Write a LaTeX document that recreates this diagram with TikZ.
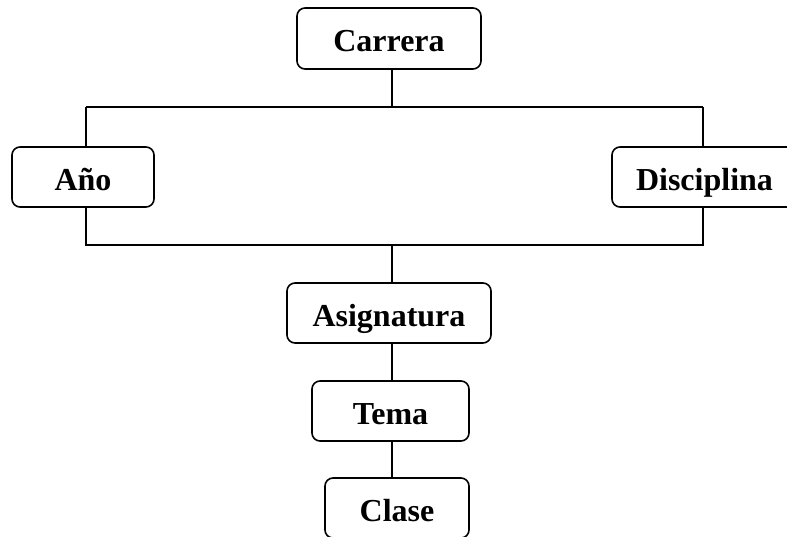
\documentclass[tikz,border=0pt]{standalone}
\usepackage{fontspec}
\setmainfont{Liberation Serif}
\usepackage{tikz}
\usetikzlibrary{calc}

\begin{document}
\begin{tikzpicture}[x=1pt, y=-1pt,
    caja/.style={draw, rounded corners=8pt, line width=1.6pt, minimum height=60pt,
                 inner sep=0pt, text height=27pt, text depth=0pt,
                 font=\fontsize{32}{36}\selectfont\bfseries},
    linea/.style={line width=1.6pt}]
  \pgfmathsetmacro{\ytop}{107}
  \pgfmathsetmacro{\ybot}{245}
  \clip (0,0) rectangle (787,537);
  \useasboundingbox (0,0) rectangle (787,537);

  \node[caja, minimum width=184pt, minimum height=61pt] (carrera) at (389,38.5) {Carrera};
  \node[caja, minimum width=142pt] (anio) at (83,177) {Año};
  \node[caja, minimum width=185pt] (disciplina) at (704.5,177) {Disciplina};
  \node[caja, minimum width=204pt] (asignatura) at (389,313) {Asignatura};
  \node[caja, minimum width=157pt] (tema) at (390.5,411) {Tema};
  \node[caja, minimum width=144pt] (clase) at (397,508) {Clase};

  \coordinate (arribaC) at (392,\ytop);
  \coordinate (arribaI) at (86,\ytop);
  \coordinate (arribaD) at (703,\ytop);
  \coordinate (abajoC) at (392,\ybot);
  \coordinate (abajoI) at (86,\ybot);
  \coordinate (abajoD) at (703,\ybot);

  \draw[linea] (carrera.south -| arribaC) -- (arribaC);
  \draw[linea] (arribaI) -- (arribaD);
  \draw[linea] (arribaI) -- (anio.north -| arribaI);
  \draw[linea] (arribaD) -- (disciplina.north -| arribaD);
  \draw[linea] (anio.south -| abajoI) -- (abajoI) -- (abajoD) -- (disciplina.south -| abajoD);
  \draw[linea] (abajoC) -- (asignatura.north -| abajoC);
  \draw[linea] (asignatura.south -| abajoC) -- (tema.north -| abajoC);
  \draw[linea] (tema.south -| abajoC) -- (clase.north -| abajoC);
\end{tikzpicture}
\end{document}
